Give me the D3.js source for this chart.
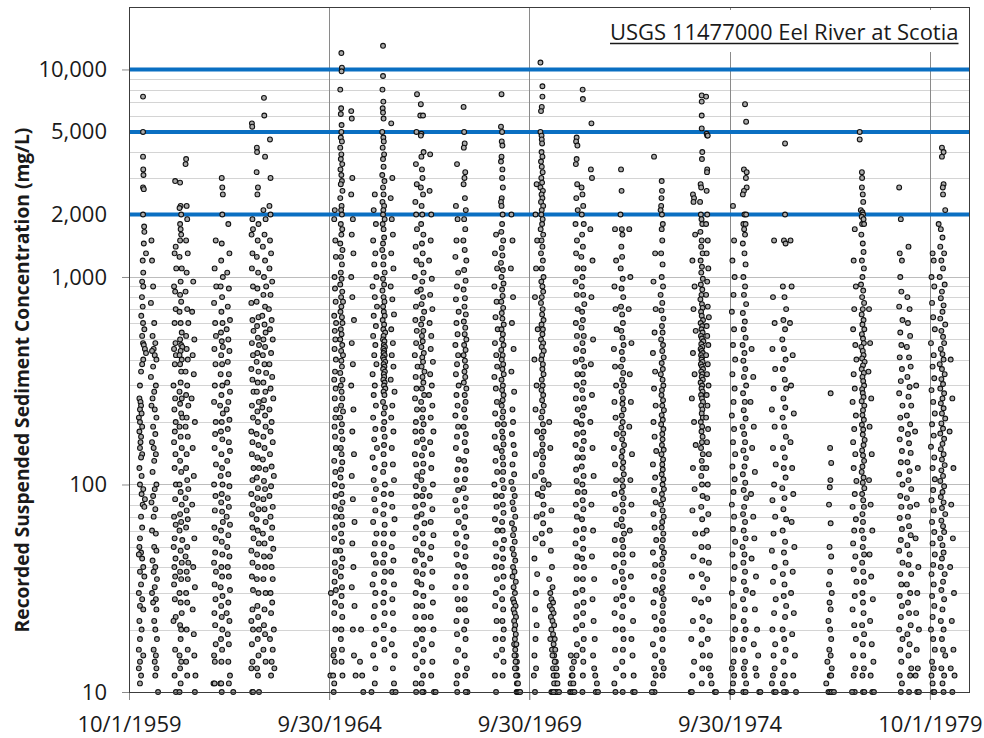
<!DOCTYPE html>
<html>
<head>
<meta charset="utf-8">
<script src="https://cdn.jsdelivr.net/npm/d3@7"></script>
<style>
  body { margin: 0; background: #fff; }
  svg { display: block; }
</style>
</head>
<body>
<svg id="chart" width="984" height="738"></svg>
<script>
// Water years (Oct 1 – Sep 30) with recorded samples; WY1964 has none.
const waterYears = [1960, 1961, 1962, 1963, 1965, 1966, 1967, 1968, 1969, 1970,
                    1971, 1972, 1973, 1974, 1975, 1976, 1977, 1978, 1979, 1980];

// Samples per water year, "day:mg/L" where day counts from Oct 1 of that water year.
const samples = [
  // 1960
  "128:7400 128:5000 128:3800 130:3300 132:3100 128:2700 135:2650 128:2000 138:1750 140:1650 135:1450 155:1300 125:1200 130:1050 120:950 130:900 118:800 125:720 112:650 128:600 140:560 120:520 128:480 135:470 145:450 155:430 130:400 120:380 110:350 100:300 95:260 105:250 110:240 100:230 115:220 90:210 100:200 120:190 95:180 110:170 105:160 100:150 120:140 110:135 95:120 115:110 100:100 130:95 115:90 145:85 125:80 140:78 110:70 120:62 100:55 95:50 110:47 90:46 120:44 130:40 100:38 140:36 110:33 90:30 120:28 100:26 130:25 95:22 115:20 100:18 90:16 130:15 100:14 90:13 110:12 100:11 205:1500 210:1200 220:900 200:750 230:600 215:520 240:480 225:450 210:440 235:420 250:400 220:370 200:330 245:300 230:280 215:260 205:240 235:230 250:210 220:190 240:175 210:160 225:150 245:140 230:130 215:115 250:100 235:95 220:88 205:82 240:76 225:70 210:60 245:58 230:50 250:48 215:43 240:40 225:38 255:35 235:32 210:30 245:28 220:27 250:25 230:22 240:20 255:18 225:16 245:15 235:14 250:13 240:12 265:10",
  // 1961
  "55:2900 60:1400 50:1300 65:1100 45:900 55:850 60:700 50:600 58:480 45:450 62:420 52:380 40:300 55:260 48:230 60:200 52:180 45:160 58:140 50:120 62:100 55:85 45:70 60:64 50:55 42:50 58:44 48:40 55:36 45:33 52:28 60:23 40:22 55:16 50:12 62:10 100:2850 105:2200 95:2150 110:2000 100:1800 105:1700 110:1600 100:1500 95:1250 115:1100 105:950 100:820 110:760 95:680 105:600 115:540 100:500 110:470 120:460 105:440 95:420 115:400 100:380 110:350 105:310 95:280 115:260 100:245 110:220 120:210 95:190 105:170 115:150 100:130 110:115 95:100 105:92 115:80 100:72 110:66 95:60 120:54 105:48 115:42 100:38 110:35 95:30 105:27 115:24 100:21 110:20 105:18 95:15 110:14 100:13 105:11 95:10 155:3700 150:3500 160:2200 165:1900 155:1500 170:1300 160:1050 150:850 165:700 175:600 155:520 160:450 170:400 150:350 165:300 155:270 175:240 160:210 150:190 170:170 160:140 155:120 165:105 175:95 150:86 160:75 170:68 155:62 165:50 150:45 175:42 160:38 170:35 155:30 165:27 160:20 170:16 155:14 165:12 220:950 210:680 230:500 215:420 225:340 205:260 235:200 215:150 225:110 210:80 230:55 220:40 235:32 215:25 225:19 230:15 240:12 235:10",
  // 1962
  "60:1500 50:1100 65:900 45:750 55:600 62:520 48:450 58:380 52:300 45:250 60:200 55:175 50:150 62:125 45:100 58:88 52:75 48:62 60:55 55:47 45:42 62:38 50:33 58:28 48:24 55:21 60:17 45:15 52:14 40:11 50:11 115:3000 120:2700 125:2500 120:2000 115:1450 110:1200 125:1000 105:900 118:800 112:680 122:600 108:540 115:490 125:460 110:420 118:380 105:340 120:300 112:270 100:240 125:220 115:200 108:180 120:165 112:140 118:120 105:110 122:100 115:90 110:82 118:74 125:66 108:60 115:53 120:46 112:40 118:36 105:32 122:29 110:26 115:23 120:20 108:18 118:16 112:14 102:11 110:11 115:10 175:1800 185:1300 165:1050 180:880 170:720 190:620 160:560 175:500 185:440 170:390 180:340 165:310 190:280 175:250 160:230 185:205 170:185 180:160 190:145 165:130 175:112 185:98 170:86 180:78 160:70 190:64 175:57 165:50 185:45 170:40 180:36 190:31 175:27 160:24 185:22 170:19 180:17 175:14 190:12 180:11 220:10",
  // 1963
  "25:5500 28:5300 30:1900 35:1700 22:1600 30:1300 25:1100 35:900 20:750 30:620 40:550 25:480 35:420 20:360 30:320 40:280 25:240 35:210 20:180 30:160 25:140 40:120 30:105 20:90 35:80 25:72 30:62 40:55 20:48 30:42 25:36 35:31 30:25 20:22 35:20 25:17 30:14 20:13 28:10 36:10 70:4200 72:4000 68:3200 75:2500 80:2700 85:1800 78:1500 70:1250 82:1050 75:880 68:760 85:640 72:580 80:510 90:470 75:430 68:390 85:350 78:310 70:280 88:250 75:225 80:200 68:175 85:155 75:135 90:120 70:108 80:96 75:86 85:76 68:68 78:60 88:52 72:46 80:40 70:35 85:30 75:26 82:23 90:20 78:18 85:15 72:13 80:12 90:10 135:7300 138:6000 145:3800 130:2100 150:1900 140:1600 125:1400 145:1200 135:1000 155:900 130:820 145:720 120:650 140:590 150:540 130:500 145:460 125:420 140:380 155:345 130:310 148:280 135:255 120:235 145:215 150:190 130:170 140:150 125:132 150:118 135:104 145:95 130:85 140:76 150:66 125:58 140:52 135:45 145:40 130:35 150:30 140:25 135:21 145:19 130:16 150:14 190:4600 195:3000 185:2200 195:2000 190:1500 200:1300 185:1100 210:950 195:820 180:700 205:620 190:560 215:500 200:430 185:380 210:330 195:290 220:260 185:230 205:200 195:180 215:160 190:140 205:122 225:110 200:98 185:88 215:78 195:70 210:62 200:55 220:49 190:45 205:40 215:35 195:30 210:27 200:24 225:20 190:18 215:16 205:14 230:13 200:12",
  // 1965
  "10:12 15:30 50:2100 45:1900 55:1500 60:1250 48:1000 52:880 58:760 45:650 62:600 50:550 55:500 48:450 60:400 52:350 45:320 58:290 50:260 62:230 55:210 48:190 52:170 60:150 45:130 55:115 50:100 58:88 48:78 62:70 52:62 45:55 58:48 50:42 55:38 48:34 60:31 52:27 45:24 55:20 42:16 38:15 50:14 35:12 45:11 40:10 110:12000 115:10200 112:9800 100:8000 108:6500 105:6100 112:5400 110:5000 105:4700 115:4500 100:4200 110:3900 105:3700 118:3500 102:3300 110:3100 115:2900 105:2800 120:2600 100:2400 112:2200 108:2100 115:2000 105:1800 118:1700 110:1600 100:1450 120:1350 108:1250 115:1150 105:1050 112:980 100:920 118:850 108:800 125:760 110:720 102:680 115:640 120:600 105:560 112:530 100:500 118:470 108:440 125:420 110:395 115:370 100:345 120:320 105:300 112:280 118:260 108:240 125:225 100:210 115:195 110:180 120:165 105:150 112:140 118:128 108:118 102:108 115:98 110:90 120:82 105:76 112:70 118:64 108:58 115:53 100:48 120:44 110:40 105:36 115:32 112:29 108:26 118:23 110:20 105:18 115:16 112:14 120:12 200:6300 205:5800 210:3000 200:2500 215:1900 205:1600 220:1300 200:1000 210:800 225:620 205:480 215:380 200:300 220:230 210:180 225:140 205:110 215:85 230:66 210:52 220:40 205:32 230:26 215:20 225:15 240:12 300:12 310:10 280:14 290:20",
  // 1966
  "50:2500 40:2100 60:1800 35:1500 55:1300 45:1150 65:1000 30:900 50:800 70:720 40:650 60:580 35:520 55:470 45:420 65:380 30:340 50:300 40:270 60:240 35:210 55:185 45:165 70:150 30:135 50:120 40:105 60:95 45:85 55:75 35:66 65:58 50:52 40:46 60:42 45:37 30:33 55:30 50:26 40:23 60:20 45:17 35:15 55:13 50:11 20:10 125:13000 125:9300 120:8000 128:7000 122:6500 125:6200 130:5800 118:5000 128:4700 132:4500 122:4200 135:3900 125:3700 130:3400 118:3100 138:2900 125:2700 130:2500 120:2300 135:2200 128:2100 125:2000 140:1900 122:1800 130:1700 135:1550 125:1450 118:1350 132:1250 128:1150 140:1050 125:980 135:920 120:860 130:800 138:760 126:720 132:680 140:650 122:620 135:590 128:560 145:540 130:520 125:500 138:490 132:470 142:460 128:450 136:440 130:430 140:420 125:410 134:400 145:390 130:380 138:370 126:360 142:350 132:340 136:330 128:320 140:310 134:300 146:290 130:280 138:270 125:250 142:235 132:220 136:200 128:185 140:170 134:155 130:140 138:125 126:115 142:100 132:90 136:80 128:72 140:64 134:58 130:52 138:46 126:42 142:38 132:34 136:30 128:27 140:24 134:21 130:18 138:16 200:5500 210:3000 195:2400 205:1900 215:1600 200:1300 220:1100 195:900 210:780 225:660 200:560 215:480 205:420 220:370 195:320 230:280 210:240 200:210 220:180 205:150 215:125 225:105 200:90 210:78 230:68 215:58 205:50 220:43 200:38 225:33 210:28 215:24 220:20 205:17 230:15 215:13 225:11 210:10 240:10",
  // 1967
  "70:7600 65:5000 60:3500 68:2800 55:2300 62:2000 70:1700 58:1400 65:1200 50:1000 72:850 60:720 55:620 68:550 62:480 50:420 75:370 58:330 65:290 52:260 70:230 60:200 55:180 68:160 50:140 62:125 72:110 58:98 65:88 52:78 70:70 60:62 55:55 68:48 50:43 62:38 72:34 58:30 65:26 55:23 70:20 60:17 52:15 66:13 58:11 62:10 105:6800 100:6000 125:6000 110:4900 105:4800 130:4000 110:3800 115:3300 120:3000 105:2700 125:2500 112:2200 118:2000 108:1800 128:1600 115:1450 122:1300 110:1150 130:1050 118:950 105:870 125:800 112:740 135:680 120:630 108:590 128:550 115:520 122:490 110:460 132:430 118:410 125:390 112:370 138:350 120:330 128:310 115:290 135:270 108:250 125:230 118:210 130:195 112:180 122:165 135:150 115:138 128:126 120:115 110:105 132:95 118:88 125:80 112:72 138:65 120:58 128:52 115:46 132:41 122:37 110:33 128:29 118:26 135:23 125:20 115:18 130:16 120:14 125:12 112:11 130:10 118:10 190:3900 185:2600 200:2000 195:1500 180:1200 205:980 190:820 210:700 185:600 200:520 195:450 215:390 190:340 205:300 180:270 210:240 195:210 220:180 190:160 205:140 200:120 215:100 185:88 210:76 195:66 220:57 200:50 190:44 210:38 205:32 215:27 195:23 220:20 205:17 210:14 200:12 225:10 240:10",
  // 1968
  "70:3500 60:2200 75:1900 65:1500 55:1250 80:1050 70:900 60:780 85:680 65:600 75:530 55:470 80:420 70:380 60:340 85:300 65:270 75:240 55:215 80:190 70:170 60:150 85:132 75:118 65:105 80:94 55:84 70:75 85:66 60:58 75:52 65:46 80:41 70:36 55:32 75:28 85:25 65:22 70:19 80:16 60:14 75:12 65:11 72:10 130:6600 135:5000 140:4400 132:4200 145:3200 138:3000 130:2800 142:2400 150:2100 135:1900 145:1700 128:1500 140:1350 155:1200 135:1080 148:960 130:870 142:790 138:720 150:660 132:610 145:570 140:530 155:500 135:470 148:445 130:420 142:395 150:370 138:350 145:330 132:310 155:290 140:270 148:250 135:230 145:210 130:190 150:175 140:160 155:145 135:130 148:118 142:106 130:96 150:86 138:78 145:70 135:62 155:56 140:50 148:45 132:40 145:36 150:32 138:28 142:25 155:22 135:20 148:18 140:15 160:13 145:12 165:10 150:10",
  // 1969
  "60:1600 50:1300 70:1100 45:900 65:760 55:640 75:560 50:480 62:420 70:370 45:330 58:290 68:250 52:220 75:195 48:170 62:150 55:130 70:115 45:100 58:88 65:78 50:68 72:60 55:52 62:45 48:40 68:35 58:30 52:26 65:22 55:18 62:15 50:12 60:10 110:7600 105:5300 115:5000 112:4500 118:4300 110:3800 105:3600 118:3300 115:3000 122:2700 112:2400 105:2300 110:2200 120:2000 115:1800 108:1650 125:1500 112:1380 118:1270 105:1170 122:1080 110:1000 128:930 115:870 120:810 108:760 125:710 112:670 118:630 130:590 110:560 122:530 115:500 128:470 108:445 120:420 112:400 125:380 118:360 130:340 110:320 122:300 115:285 128:270 120:255 112:240 125:225 118:210 132:195 115:180 122:168 128:156 112:145 120:135 125:125 125:115 118:105 130:96 112:88 122:80 128:73 115:66 120:60 132:54 118:49 125:44 112:40 128:36 120:32 115:28 125:25 118:22 130:20 122:18 115:16 128:14 120:12 200:2000 210:1500 195:1100 215:800 205:600 220:450 200:350 225:280 210:230 215:200 205:175 220:155 230:140 210:125 225:112 200:103 215:95 230:88 210:82 220:76 235:70 205:65 225:61 215:57 230:53 210:49 222:46 235:43 215:40 228:38 210:36 240:34 220:32 232:30 215:28 225:27 238:26 220:25 230:24 242:23 225:22 235:21 228:20 240:19 232:18 225:17 245:17 235:16 240:15 228:15 250:14 238:14 245:13 232:13 255:12 242:12 250:11 260:11 248:10 255:10 262:10 270:10 280:10",
  // 1970
  "65:2800 55:2000 70:1500 60:1100 50:800 75:560 45:400 65:300 55:230 70:180 60:140 50:110 75:90 65:70 55:55 45:44 70:37 60:30 50:25 65:21 55:18 45:15 60:13 40:12 50:10 100:10800 118:8300 118:7400 112:6600 105:6300 100:5000 110:4800 112:4600 115:4400 110:4000 118:3800 105:3600 112:3400 120:3200 108:3000 115:2850 100:2700 122:2600 110:2500 118:2400 105:2300 125:2200 112:2100 108:2000 120:1900 115:1800 102:1700 125:1600 110:1500 118:1400 105:1300 122:1200 112:1100 128:1000 108:950 118:900 125:850 112:800 105:750 120:700 115:660 128:620 110:590 122:560 118:530 105:500 125:480 112:460 130:440 115:420 108:400 122:380 118:360 128:340 112:320 120:300 110:285 125:270 115:255 130:240 118:225 108:210 122:195 128:180 112:168 120:156 115:145 125:135 118:125 110:115 130:105 122:96 115:88 128:80 118:72 125:65 112:58 120:52 180:200 190:150 175:100 200:75 185:60 195:48 205:40 180:35 210:32 190:30 200:28 215:27 185:26 205:25 220:24 195:23 210:22 225:21 200:20 215:19 230:18 190:18 220:17 205:16 235:16 225:15 210:15 240:14 230:14 215:13 245:13 235:12 220:12 250:12 240:11 225:11 255:11 245:10 230:10 260:10 250:10 270:10 200:10 210:10 220:10",
  // 1971
  "5:10 10:11 15:10 20:12 25:13 30:10 35:11 40:14 45:10 12:15 28:12 65:4700 60:4500 72:4300 65:3700 58:3500 70:2800 62:2400 75:2100 55:1800 68:1500 60:1300 72:1100 55:950 65:820 75:700 58:600 68:520 62:450 55:390 72:340 65:300 58:260 75:230 62:200 68:175 55:155 72:135 60:118 65:104 75:92 58:80 68:70 62:60 55:52 72:45 60:40 66:35 56:30 70:26 62:23 58:20 68:17 64:15 120:8000 122:7200 110:2700 118:2500 125:2200 112:2000 130:1800 115:1600 122:1400 108:1250 128:1100 118:1000 112:900 125:820 135:740 115:680 122:620 110:570 130:520 118:480 125:440 112:400 135:370 120:340 128:310 115:285 122:260 132:235 118:215 110:195 125:178 130:162 115:148 122:135 112:122 128:110 118:100 135:92 120:84 126:76 114:68 130:61 120:55 125:49 115:44 132:40 122:35 118:31 128:27 124:24 116:21 130:18 120:16 126:14 122:12 118:10 200:5500 195:3300 205:3000 190:1700 210:1200 200:800 215:500 195:380 205:270 190:200 210:150 220:110 200:80 215:60 205:45 225:35 210:28 220:22 230:18 215:15 225:13 235:12 240:10 250:11 260:10",
  // 1972
  "50:1700 60:1200 45:900 55:700 65:560 40:450 50:370 60:300 45:250 55:210 65:175 40:150 50:125 60:105 45:90 55:76 65:64 48:54 58:46 42:40 52:34 62:28 46:24 56:20 50:16 60:13 44:11 54:10 105:3300 110:2600 100:2000 112:1700 118:1600 108:1400 115:1250 102:1100 120:980 110:880 125:800 105:720 115:660 122:600 108:550 118:510 128:470 112:435 120:400 105:370 125:345 115:320 130:300 110:280 122:260 118:245 128:230 112:215 120:200 108:188 125:176 115:165 132:155 118:145 110:136 125:128 120:120 130:112 115:105 122:98 112:92 128:86 118:80 125:74 110:68 120:63 132:58 115:54 125:50 118:46 128:42 112:38 122:35 130:32 118:29 125:26 115:23 120:20 128:18 122:16 116:14 126:12 120:10 180:1700 190:1000 175:700 200:480 185:340 195:250 180:190 205:140 190:105 200:80 185:60 210:46 195:36 205:28 215:22 200:18 210:15 220:12 215:10 230:10",
  // 1973
  "40:3800 50:1300 35:950 55:700 45:540 30:430 50:350 40:290 55:240 35:200 45:170 60:145 30:125 50:108 40:94 55:82 35:72 45:62 60:54 30:47 50:41 40:36 55:31 35:27 45:23 60:20 30:17 50:15 40:13 55:12 35:11 45:10 20:10 110:2900 112:2600 108:2400 105:2200 100:2100 112:2000 120:1800 110:1700 115:1500 105:1300 118:1150 110:1000 122:900 100:820 115:750 108:690 125:630 112:580 118:540 105:500 122:470 115:440 128:410 110:385 120:360 102:340 118:320 125:300 112:285 108:270 122:255 115:240 130:228 110:216 120:205 105:195 125:185 115:175 118:165 112:155 128:147 108:140 122:132 115:125 120:118 110:112 125:106 118:100 130:95 112:90 122:85 105:80 118:75 128:70 115:66 110:62 125:58 120:54 112:50 130:47 118:44 108:41 125:38 115:35 120:32 110:30 128:28 118:26 122:24 112:22 125:20 115:18 120:16 110:14 128:13 118:12",
  // 1974
  "30:2500 40:2400 35:2300 50:1600 25:1200 45:900 35:700 55:550 30:430 45:340 20:260 40:200 55:155 30:120 45:95 25:75 50:58 35:45 20:36 45:28 30:22 15:18 40:14 25:12 10:10 20:10 110:7500 110:7000 110:6000 110:5200 115:4000 112:3700 100:2800 105:2700 95:2300 102:2000 108:1900 115:1800 98:1650 110:1500 105:1400 118:1300 100:1200 112:1120 106:1050 120:980 102:920 115:870 108:820 98:780 112:740 118:710 104:680 110:650 122:620 100:600 115:580 108:560 118:540 103:520 112:505 125:490 106:475 116:460 100:450 110:440 120:430 104:420 114:410 108:400 118:390 102:380 112:370 122:360 106:350 116:340 110:330 120:320 100:310 114:300 108:290 118:280 104:270 112:260 122:250 106:240 116:230 110:220 120:210 102:200 114:190 108:180 118:170 112:160 104:150 120:140 110:130 116:120 106:110 112:100 118:88 106:78 114:68 120:58 108:50 116:43 110:37 122:32 104:27 118:23 112:20 108:17 120:15 114:13 110:11 150:7400 155:4900 160:4800 165:4800 160:3300 158:3200 155:2600 160:2000 150:1800 165:1500 155:1300 170:1100 160:950 150:820 165:720 175:640 155:580 160:520 170:470 150:420 165:380 158:340 172:300 155:270 162:240 150:210 168:185 158:160 175:140 152:120 165:100 160:86 170:72 155:60 168:50 175:42 160:35 170:28 180:22 165:18 185:15 175:13 190:12 200:11 230:10 240:10",
  // 1975
  "30:2200 40:1500 25:1200 45:1000 35:820 20:680 40:560 30:470 50:400 25:340 45:290 35:250 20:215 40:185 30:160 50:140 25:122 45:106 35:92 20:80 40:70 30:61 50:53 25:46 45:40 35:35 20:30 40:26 30:23 50:20 25:18 45:16 35:14 20:13 40:12 30:11 15:10 25:10 140:6800 150:5600 130:3300 155:3200 148:3000 155:2700 130:2600 120:2500 135:2000 150:2000 125:1800 145:1800 132:1700 140:1600 120:1450 135:1300 145:1150 125:1000 140:900 130:820 150:740 120:670 138:610 128:560 145:510 118:470 135:430 125:395 142:360 130:330 150:300 122:275 138:250 128:228 145:208 118:190 132:175 140:160 125:146 148:134 135:122 120:112 142:102 128:94 150:86 132:78 122:72 140:66 128:60 145:55 118:50 135:46 125:42 140:38 130:34 148:31 122:28 138:25 128:22 145:20 132:18 120:16 140:14 128:13 135:12 150:11 125:10 145:10 200:450 215:330 190:250 220:190 205:150 230:115 195:90 215:70 225:55 200:44 240:36 210:30 230:25 250:20 220:17 260:15 235:13 245:12 270:10 280:10",
  // 1976
  "40:1500 30:800 45:600 25:450 50:360 35:290 20:230 45:190 30:150 55:125 40:100 25:84 50:70 35:58 20:48 45:40 30:34 55:28 40:24 25:20 50:17 35:15 45:13 30:12 20:11 40:10 55:10 140:4400 140:2000 130:1500 145:1450 120:900 135:800 150:700 125:620 140:560 115:500 130:450 145:400 120:360 138:320 150:290 125:260 142:235 118:210 132:190 148:170 122:150 138:135 128:120 145:108 115:96 135:86 125:76 150:68 118:60 140:53 130:47 145:42 120:37 135:33 128:29 150:26 140:23 118:20 132:18 145:16 125:14 138:12 120:11 148:10 130:10 190:1500 200:900 185:600 210:420 195:300 220:220 190:160 205:120 215:90 200:66 225:50 210:38 195:30 220:24 205:19 230:15 215:12 240:10",
  // 1977
  "190:275 185:150 195:127 188:105 182:97 175:80 190:65 180:50 195:45 185:38 175:33 200:30 180:27 190:25 170:22 185:20 195:18 178:16 190:15 200:13 182:12 195:12 170:10 185:10 200:10 150:11 220:10 160:14",
  // 1978
  "45:1700 35:1200 55:900 40:700 30:560 50:470 60:400 35:340 45:290 25:250 55:215 40:185 30:160 50:140 35:120 60:104 45:90 25:78 55:68 40:60 30:52 50:45 35:39 60:34 45:29 25:25 40:21 55:18 30:15 50:13 35:12 45:10 20:10 90:5000 90:4600 110:3200 112:3000 110:2700 118:2500 122:2300 100:2100 115:2050 120:2000 108:1950 125:1900 112:1800 130:1800 105:1600 118:1450 125:1320 110:1200 128:1100 115:1000 102:920 122:860 112:800 130:750 118:700 108:660 125:620 115:590 132:560 110:530 120:505 128:480 105:460 118:440 125:420 112:405 135:390 120:375 108:360 128:345 115:330 122:315 130:300 112:288 118:276 125:264 108:252 132:240 120:228 115:216 128:205 110:194 122:184 118:174 135:164 125:155 112:146 120:138 130:130 115:122 108:115 125:108 118:102 132:96 112:90 122:84 128:78 115:72 120:66 110:60 125:55 118:50 130:46 112:42 122:38 128:34 115:30 120:27 125:24 112:21 130:19 118:17 122:15 128:13 115:12 120:10 132:10 175:700 185:480 170:350 195:260 180:190 200:140 175:105 190:80 205:60 180:46 195:36 210:28 185:22 200:17 215:14 190:12 205:10 220:10",
  // 1979
  "85:2700 100:1900 90:1300 110:1200 95:1000 105:850 85:720 115:620 95:540 105:470 90:410 110:360 100:315 85:275 115:240 95:210 105:185 90:165 110:145 100:128 85:112 115:100 95:88 105:78 90:69 110:61 100:54 85:48 115:42 95:37 105:33 90:29 110:26 100:23 85:20 115:18 95:16 105:14 90:12 110:11 100:10 170:1400 160:800 180:700 165:600 185:520 155:460 175:410 190:370 160:330 180:295 170:265 195:240 155:215 185:195 165:175 175:158 190:142 160:128 180:116 170:105 195:95 155:86 185:78 165:70 175:63 190:57 160:51 180:46 170:41 195:37 155:33 185:30 165:27 175:24 190:21 160:19 180:17 170:15 195:13 185:12 175:10 240:300 230:180 255:120 245:80 235:55 260:40 250:30 240:24 265:20 245:16 255:13 235:12 250:10 265:10",
  // 1980
  "25:1300 35:1200 15:1000 40:900 20:750 30:640 45:560 10:480 35:420 25:370 40:325 15:285 30:250 45:220 20:195 35:172 10:152 40:135 25:120 45:106 30:94 15:84 35:75 20:66 40:59 25:52 45:46 30:41 15:37 35:33 20:29 40:26 25:23 10:20 30:18 45:16 20:14 35:13 15:12 25:11 30:10 40:10 110:4200 125:4000 110:3800 125:2800 118:2700 120:2500 140:2100 80:1800 100:1700 115:1550 95:1400 130:1300 105:1200 120:1100 90:1000 135:920 110:850 100:790 125:730 115:680 95:630 140:590 105:550 120:515 130:480 100:450 115:425 125:400 90:380 110:360 135:340 105:322 120:305 95:290 130:275 115:260 100:246 125:233 110:220 140:208 105:197 120:186 95:176 130:166 115:157 100:148 125:140 110:132 135:124 105:117 120:110 95:104 130:98 115:92 100:87 125:82 110:77 140:72 105:67 120:63 130:59 95:55 115:51 125:47 110:44 100:40 135:37 120:34 105:31 130:28 115:25 100:22 125:20 110:18 120:16 140:15 105:13 130:12 115:11 125:10 190:400 205:260 180:180 215:120 195:80 210:55 185:40 220:30 200:22 215:16 190:13 225:12 205:10"
];

// Axis ticks, labels and reference concentrations
const yLabelValues = [10, 100, 1000, 2000, 5000, 10000];
const yMajorTicks = [10, 100, 1000, 10000];
const thresholdLevels = [2000, 5000, 10000];
const xTickDates = ["1959-10-01", "1964-09-30", "1969-09-30", "1974-09-30", "1979-10-01"];
const xTickLabels = ["10/1/1959", "9/30/1964", "9/30/1969", "9/30/1974", "10/1/1979"];
const chartTitle = "USGS 11477000 Eel River at Scotia";
const yAxisTitle = "Recorded Suspended Sediment Concentration (mg/L)";

const FONT = "'Open Sans', 'Liberation Sans', sans-serif";
const plot = { left: 129, right: 970, top: 7, bottom: 692 };
const DAY = 86400000;

const svg = d3.select("#chart");
svg.append("rect").attr("width", 984).attr("height", 738).attr("fill", "#fff");

const x = d3.scaleUtc()
  .domain([new Date(Date.UTC(1959, 9, 1)), new Date(Date.UTC(1980, 9, 1))])
  .range([plot.left, plot.right]);
const y = d3.scaleLog().domain([10, 20000]).range([plot.bottom, plot.top]);

// Flatten the sample strings into dated records
const points = [];
waterYears.forEach((wy, i) => {
  const start = Date.UTC(wy - 1, 9, 1);
  samples[i].trim().split(/\s+/).forEach(tok => {
    const [day, val] = tok.split(":").map(Number);
    points.push({ date: new Date(start + day * DAY), value: val });
  });
});

// Horizontal log gridlines (1–9 per decade)
const gridVals = [];
for (let e = 1; e <= 4; e++) {
  for (let k = 1; k <= 9; k++) {
    const v = k * Math.pow(10, e);
    if (v > 10 && v < 20000 && !thresholdLevels.includes(v)) gridVals.push(v);
  }
}
svg.append("g").selectAll("line").data(gridVals).join("line")
  .attr("x1", plot.left).attr("x2", plot.right)
  .attr("y1", d => Math.round(y(d)) + 0.5).attr("y2", d => Math.round(y(d)) + 0.5)
  .attr("stroke", d => (yMajorTicks.includes(d) ? "#bcbcbc" : "#d4d4d4"))
  .attr("stroke-width", 1);

// Vertical gridlines at the dated ticks (extending below as tick marks)
const tickDates = xTickDates.map(s => new Date(s + "T00:00:00Z"));
svg.append("g").selectAll("line").data(tickDates.slice(1)).join("line")
  .attr("x1", d => Math.round(x(d)) + 0.5).attr("x2", d => Math.round(x(d)) + 0.5)
  .attr("y1", plot.top).attr("y2", plot.bottom + 8)
  .attr("stroke", "#8a8a8a").attr("stroke-width", 1);

// Reference concentration lines
svg.append("g").selectAll("line").data(thresholdLevels).join("line")
  .attr("x1", plot.left).attr("x2", plot.right)
  .attr("y1", d => y(d)).attr("y2", d => y(d))
  .attr("stroke", "#0a6fc2").attr("stroke-width", 4);

// X axis
const xAxis = svg.append("g")
  .attr("transform", `translate(0,${plot.bottom})`)
  .call(d3.axisBottom(x).tickValues(tickDates).tickFormat((d, i) => xTickLabels[i]).tickSize(8));
xAxis.select(".domain").remove();
xAxis.selectAll(".tick line").attr("stroke", "#8a8a8a");
xAxis.selectAll(".tick text")
  .attr("dy", 0).attr("y", 40)
  .attr("font-family", FONT).attr("font-size", 22).attr("fill", "#1a1a1a");

// Y axis
const yAxis = svg.append("g")
  .attr("transform", `translate(${plot.left},0)`)
  .call(d3.axisLeft(y).tickValues(yLabelValues).tickFormat(d3.format(",")).tickSize(7).tickPadding(15));
yAxis.select(".domain").remove();
yAxis.selectAll(".tick line")
  .attr("stroke", "#8a8a8a")
  .attr("display", d => (yMajorTicks.includes(d) ? null : "none"));
yAxis.selectAll(".tick text")
  .attr("font-family", FONT).attr("font-size", 22).attr("fill", "#1a1a1a");

// Sample markers
svg.append("g").selectAll("circle").data(points).join("circle")
  .attr("cx", d => x(d.date))
  .attr("cy", d => y(d.value))
  .attr("r", 2.4)
  .attr("fill", "#ababab")
  .attr("stroke", "#111")
  .attr("stroke-width", 1.1);

// Plot frame
svg.append("rect")
  .attr("x", plot.left + 0.5).attr("y", plot.top + 0.5)
  .attr("width", plot.right - plot.left - 1).attr("height", plot.bottom - plot.top)
  .attr("fill", "none").attr("stroke", "#3c3c3c").attr("stroke-width", 1);

// Station title in a white box
svg.append("rect").attr("x", 600).attr("y", 10).attr("width", 366).attr("height", 42).attr("fill", "#fff");
const title = svg.append("text")
  .attr("x", 610).attr("y", 40)
  .attr("font-family", FONT).attr("font-size", 22).attr("fill", "#1a1a1a")
  .text(chartTitle);
const tw = title.node().getComputedTextLength();
svg.append("line")
  .attr("x1", 610).attr("x2", 610 + tw).attr("y1", 43.5).attr("y2", 43.5)
  .attr("stroke", "#1a1a1a").attr("stroke-width", 1.3);

// Y axis title
svg.append("text")
  .attr("transform", "translate(29,380) rotate(-90)")
  .attr("text-anchor", "middle")
  .attr("font-family", FONT).attr("font-size", 19.2).attr("font-weight", "bold").attr("fill", "#1a1a1a")
  .text(yAxisTitle);
</script>
</body>
</html>
